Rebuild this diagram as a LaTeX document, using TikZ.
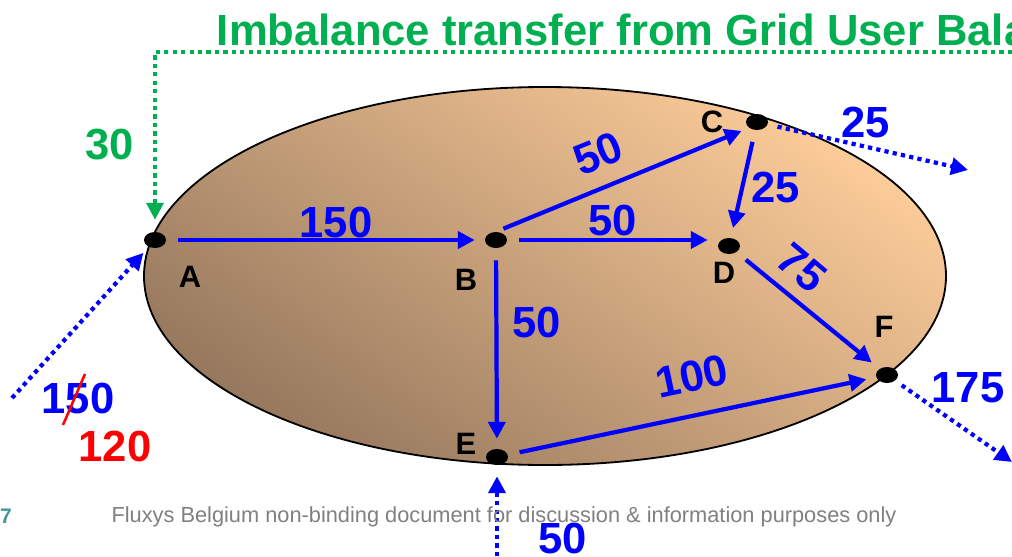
\documentclass[tikz,border=0pt]{standalone}
\usepackage{fontspec}
\setmainfont{Liberation Sans}
\usetikzlibrary{arrows.meta,shapes.geometric}
\definecolor{flowblue}{RGB}{0,0,255}
\definecolor{imbgreen}{RGB}{0,176,80}
\definecolor{notegray}{RGB}{128,128,128}
\definecolor{pageteal}{RGB}{70,150,155}
\definecolor{zonelight}{RGB}{252,204,153}
\definecolor{zonedark}{RGB}{150,120,94}
\begin{document}
\begin{tikzpicture}[>={Triangle[length=12pt,width=12pt]},
	dot/.style={ellipse,fill=black,minimum width=5.5mm,minimum height=4mm,inner sep=0pt},
	flow/.style={->,flowblue,line width=3pt,shorten <=3mm,shorten >=2.5mm},
	ext/.style={->,flowblue,line width=3pt,dash pattern=on 3pt off 3pt},
	num/.style={text=flowblue,font=\fontsize{31}{32}\selectfont\bfseries},
	lbl/.style={font=\fontsize{22}{24}\selectfont\bfseries}]
	  \useasboundingbox (0,0) rectangle (25.3,-13.9);
	  \clip (0,0) rectangle (25.3,-13.9);
	  \shade[top color=zonelight,bottom color=zonedark,shading angle=-35]
	    (13.625,-6.9) ellipse (10.025 and 4.725);
	  \draw[line width=1.3pt] (13.625,-6.9) ellipse (10.025 and 4.725);
	  \node[anchor=west,text=imbgreen,font=\fontsize{31}{32}\selectfont\bfseries] (title) at (5.3,-0.75) {Imbalance transfer from Grid User Bala};
	  \node[dot] (A) at (3.875,-6.0) {};
	  \node[dot] (B) at (12.4,-6.0) {};
	  \node[dot] (C) at (18.925,-3.05) {};
	  \node[dot] (D) at (18.225,-6.15) {};
	  \node[dot] (E) at (12.425,-11.425) {};
	  \node[dot] (F) at (22.175,-9.375) {};
	  \node[lbl] (labA) at (4.75,-6.925) {A};
	  \node[lbl] (labB) at (11.65,-7.0) {B};
	  \node[lbl] (labC) at (17.8,-3.05) {C};
	  \node[lbl] (labD) at (18.1,-6.825) {D};
	  \node[lbl] (labE) at (11.65,-11.1) {E};
	  \node[lbl] (labF) at (22.1,-8.175) {F};
	  \coordinate (gstart) at (25.3,-1.3);
	  \coordinate (gcorner) at (3.875,-1.3);
	  \coordinate (Ain) at (0.3,-9.95);
	  \coordinate (Ein) at (12.425,-13.9);
	  \coordinate (Cout) at (24.2,-4.25);
	  \coordinate (Fout) at (25.3,-11.55);
	  \draw[ext,imbgreen,line width=2.6pt,shorten >=3mm] (gstart) -- (gcorner) -- (A);
	  \draw[flow] (A) -- (B);
	  \draw[flow,shorten <=2mm,shorten >=2mm] (B.north) -- (C.south west);
	  \draw[flow] (B) -- (B -| D.west);
	  \draw[flow] (C) -- (D);
	  \draw[flow] (D) -- (F);
	  \draw[flow] (B) -- (E);
	  \draw[flow] (E) -- (F);
	  \draw[ext,shorten >=2mm] (Ain) -- (A);
	  \draw[ext,shorten >=2.75mm] (Ein) -- (E);
	  \draw[ext,shorten <=2.5mm] (C) -- (Cout);
	  \draw[ext,shorten <=2mm] (F) -- (Fout);
	  \node[num] (nAB) at (8.4,-5.55) {150};
	  \node[num,rotate=22] (nBC) at (14.95,-3.85) {50};
	  \node[num] (nBD) at (15.325,-5.5) {50};
	  \node[num] (nCD) at (19.4,-4.675) {25};
	  \node[num,rotate=-40] (nDF) at (20.05,-6.7) {75};
	  \node[num] (nBE) at (13.425,-8.05) {50};
	  \node[num,rotate=12] (nEF) at (17.3,-9.4) {100};
	  \node[num] (nC) at (21.65,-3.05) {25};
	  \node[num] (nF) at (24.2,-9.7) {175};
	  \node[num] (nA) at (1.95,-9.95) {150};
	  \node[num,text=red] (nAnew) at (2.875,-11.15) {120};
	  \node[num] (nE) at (14.075,-13.45) {50};
	  \node[num,text=imbgreen] (nG) at (2.75,-3.625) {30};
	  \draw[red,line width=1.8pt] (1.575,-10.625) -- (2.125,-9.35);
	  \node[text=pageteal,font=\fontsize{15}{16}\selectfont\bfseries] (page) at (0.15,-12.9) {7};
	  \node[text=notegray,font=\fontsize{15.5}{16}\selectfont] (note) at (12.6,-12.925) {Fluxys Belgium non-binding document for discussion \& information purposes only};
	\end{tikzpicture}
\end{document}
